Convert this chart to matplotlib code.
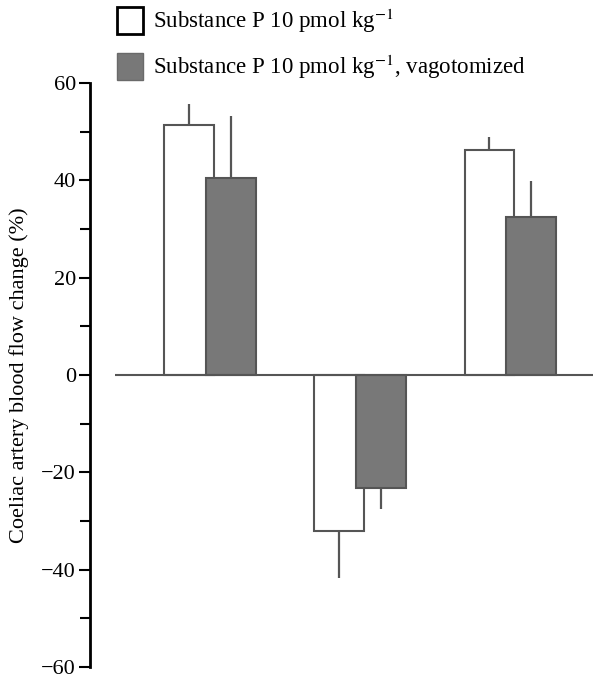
import matplotlib
matplotlib.use("Agg")
import matplotlib.pyplot as plt
from matplotlib.patches import Rectangle
import numpy as np

plt.rcParams['font.family'] = ['Liberation Serif', 'DejaVu Serif']
plt.rcParams['mathtext.fontset'] = 'stix'

# data
groups = [0, 1, 2]
control = [51.3, -32.0, 46.2]
control_err = [4.4, 9.7, 2.7]
vagot = [40.4, -23.3, 32.5]
vagot_err = [12.8, 4.3, 7.4]
yticks = [-60, -40, -20, 0, 20, 40, 60]
yminor = [-50, -30, -10, 10, 30, 50]
labels = [r"Substance P 10 pmol kg$^{-1}$",
          r"Substance P 10 pmol kg$^{-1}$, vagotomized"]

W, H = 596, 679
fig = plt.figure(figsize=(W / 100, H / 100), dpi=100)
# axes: spine at x=90px, y=60 at 83px, y=-60 at ~667px
ax = fig.add_axes([90 / W, 1 - 667 / H, (W - 90) / W, 584 / H])

edge = '#555555'
fill = '#787878'
bw = 0.333
off = 0.137
x = np.array(groups)

# white bars first, shaded ones on top
ax.bar(x - off, control, width=bw, color='white', edgecolor=edge, linewidth=1.5, zorder=2)
ax.bar(x + off, vagot, width=bw, color=fill, edgecolor=edge, linewidth=1.5, zorder=3)

# one-sided error lines, no caps
for xi, v, e in zip(x - off, control, control_err):
    ax.vlines(xi, v, v + np.sign(v) * e, color=edge, linewidth=1.6, zorder=1)
for xi, v, e in zip(x + off, vagot, vagot_err):
    ax.vlines(xi, v, v + np.sign(v) * e, color=edge, linewidth=1.6, zorder=1)

ax.hlines(0, -0.633, 2.55, color=edge, linewidth=1.5, zorder=4)

ax.set_xlim(-0.8, 2.573)
ax.set_ylim(-60, 60)
ax.set_yticks(yticks)
ax.set_yticks(yminor, minor=True)
ax.set_yticklabels([f"\u2212{abs(t)}" if t < 0 else f"{t}" for t in yticks])
ax.tick_params(axis='y', which='major', direction='out', length=8, width=1.5, labelsize=16, pad=2)
ax.tick_params(axis='y', which='minor', direction='out', length=7, width=1.5)
ax.set_xticks([])
for s in ['top', 'right', 'bottom']:
    ax.spines[s].set_visible(False)
ax.spines['left'].set_linewidth(2)
ax.spines['left'].set_color('black')

ax.set_ylabel("Coeliac artery blood flow change (%)", fontsize=16)
ax.yaxis.set_label_coords(-0.12, 0.5)

# legend, drawn by hand
for (y0, fc, ec, lw), lab in zip([(7, 'white', 'black', 2), (53, fill, '#6a6a6a', 1)], labels):
    fig.patches.append(Rectangle((117 / W, 1 - (y0 + 27) / H), 26 / W, 27 / H,
                                 transform=fig.transFigure, facecolor=fc,
                                 edgecolor=ec, linewidth=lw))
    fig.text(153 / W, 1 - (y0 + 14) / H, lab, fontsize=16.5, va='center', ha='left')

fig.savefig("out.png", dpi=100)
